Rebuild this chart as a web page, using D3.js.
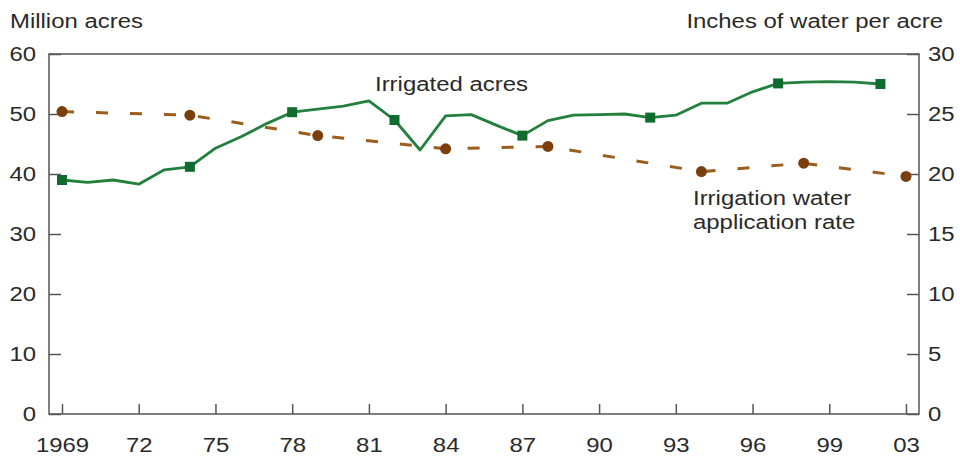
<!DOCTYPE html>
<html>
<head>
<meta charset="utf-8">
<script src="https://cdn.jsdelivr.net/npm/d3@7"></script>
<style>
  body { margin: 0; background: #fff; }
  text { font-family: "Liberation Sans", Arial, sans-serif; fill: #2a2a2a; }
</style>
</head>
<body>
<script>
// years on the axis (2001 is not in the series)
var years = [1969, 1970, 1971, 1972, 1973, 1974, 1975, 1976, 1977, 1978, 1979, 1980,
  1981, 1982, 1983, 1984, 1985, 1986, 1987, 1988, 1989, 1990, 1991, 1992, 1993,
  1994, 1995, 1996, 1997, 1998, 1999, 2000, 2002, 2003]

// irrigated acres, million (annual)
var acresYears = [1969, 1970, 1971, 1972, 1973, 1974, 1975, 1976, 1977, 1978, 1979, 1980,
  1981, 1982, 1983, 1984, 1985, 1986, 1987, 1988, 1989, 1990, 1991, 1992, 1993,
  1994, 1995, 1996, 1997, 1998, 1999, 2000, 2002]
var acres = [39.0, 38.6, 39.0, 38.3, 40.7, 41.2, 44.3, 46.2, 48.4, 50.3, 50.8, 51.3,
  52.2, 49.0, 44.0, 49.7, 49.9, 48.1, 46.4, 48.9, 49.8, 49.9, 50.0, 49.4, 49.8,
  51.8, 51.8, 53.7, 55.1, 55.3, 55.4, 55.3, 55.0]
// census years get a square marker
var censusYears = [1969, 1974, 1978, 1982, 1987, 1992, 1997, 2002]

// irrigation water application rate, inches per acre
var rateYears = [1969, 1974, 1979, 1984, 1988, 1994, 1998, 2003]
var rate = [25.2, 24.9, 23.2, 22.1, 22.3, 20.2, 20.9, 19.8]

var tickYears = [1969, 1972, 1975, 1978, 1981, 1984, 1987, 1990, 1993, 1996, 1999, 2003]
var tickLabels = ["1969", "72", "75", "78", "81", "84", "87", "90", "93", "96", "99", "03"]
var leftTicks = [0, 10, 20, 30, 40, 50, 60]
var rightTicks = [0, 5, 10, 15, 20, 25, 30]

var width = 960
var height = 457
var box = { left: 49, right: 919, top: 54, bottom: 414 }
var sx = 1.14 // text in the picture is a bit wide

var svg = d3.select("body").append("svg")
  .attr("width", width)
  .attr("height", height)

var x = d3.scalePoint().domain(years).range([62, 906])
var yL = d3.scaleLinear().domain([0, 60]).range([box.bottom, box.top])
var yR = d3.scaleLinear().domain([0, 30]).range([box.bottom, box.top])

var axisColor = "#555"

// frame
svg.append("rect")
  .attr("x", box.left).attr("y", box.top)
  .attr("width", box.right - box.left).attr("height", box.bottom - box.top)
  .attr("fill", "none").attr("stroke", axisColor).attr("stroke-width", 1.5)

function styleAxis(g, anchor, tx) {
  g.select(".domain").remove()
  g.selectAll(".tick line").attr("stroke", axisColor).attr("stroke-width", 1.5)
  g.selectAll(".tick text")
    .attr("font-size", 21)
    .attr("fill", "#2a2a2a")
    .attr("text-anchor", anchor)
    .attr("transform", "scale(" + sx + ",1)")
    .attr("x", tx / sx)
}

var gLeft = svg.append("g")
  .attr("transform", "translate(" + box.left + ",0)")
  .call(d3.axisLeft(yL).tickValues(leftTicks).tickSizeInner(-12).tickSizeOuter(0))
styleAxis(gLeft, "end", -13)

var gRight = svg.append("g")
  .attr("transform", "translate(" + box.right + ",0)")
  .call(d3.axisRight(yR).tickValues(rightTicks).tickSizeInner(-12).tickSizeOuter(0))
styleAxis(gRight, "start", 9)

var gBottom = svg.append("g")
  .attr("transform", "translate(0," + box.bottom + ")")
  .call(d3.axisBottom(x).tickValues(tickYears).tickSizeInner(-10).tickSizeOuter(0)
    .tickFormat(function (d, i) { return tickLabels[i] }))
styleAxis(gBottom, "middle", 0)
gBottom.selectAll(".tick text").attr("y", 38).attr("dy", 0)

// axis titles and line labels
function label(txt, px, py, anchor) {
  svg.append("text")
    .attr("transform", "translate(" + px + "," + py + ") scale(" + sx + ",1)")
    .attr("text-anchor", anchor)
    .attr("font-size", 21)
    .text(txt)
}
label("Million acres", 10, 28, "start")
label("Inches of water per acre", 943, 28, "end")
label("Irrigated acres", 375, 91, "start")
label("Irrigation water", 693, 205, "start")
label("application rate", 693, 229, "start")

// water application rate (dashed, brown)
var rateData = rateYears.map(function (d, i) { return { year: d, v: rate[i] } })
svg.append("path")
  .datum(rateData)
  .attr("fill", "none")
  .attr("stroke", "#9c5c1c")
  .attr("stroke-width", 3)
  .attr("stroke-dasharray", "12,22")
  .attr("d", d3.line().x(function (d) { return x(d.year) }).y(function (d) { return yR(d.v) }))
svg.selectAll(".rate-dot")
  .data(rateData).enter()
  .append("circle")
  .attr("cx", function (d) { return x(d.year) })
  .attr("cy", function (d) { return yR(d.v) })
  .attr("r", 5.5)
  .attr("fill", "#7a3f0c")

// irrigated acres (solid, green)
var acresData = acresYears.map(function (d, i) { return { year: d, v: acres[i] } })
svg.append("path")
  .datum(acresData)
  .attr("fill", "none")
  .attr("stroke", "#22803c")
  .attr("stroke-width", 2.8)
  .attr("stroke-linejoin", "round")
  .attr("d", d3.line().x(function (d) { return x(d.year) }).y(function (d) { return yL(d.v) }))
svg.selectAll(".acre-sq")
  .data(acresData.filter(function (d) { return censusYears.indexOf(d.year) >= 0 })).enter()
  .append("rect")
  .attr("x", function (d) { return x(d.year) - 5 })
  .attr("y", function (d) { return yL(d.v) - 5 })
  .attr("width", 10)
  .attr("height", 10)
  .attr("fill", "#0f6b2e")
</script>
</body>
</html>
